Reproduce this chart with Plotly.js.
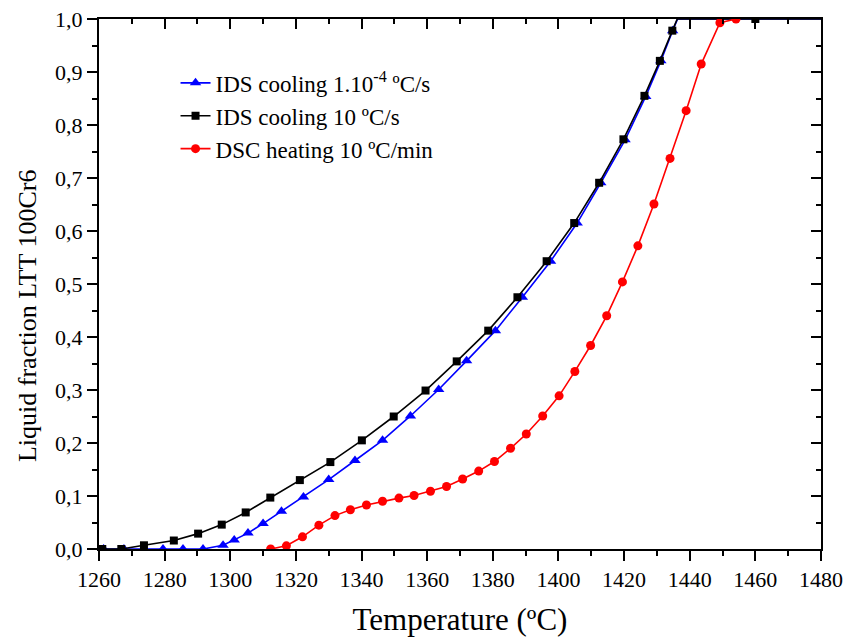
<!DOCTYPE html>
<html>
<head>
<meta charset="utf-8">
<script src="https://cdn.plot.ly/plotly-3.0.1.min.js"></script>
<style>html,body{margin:0;padding:0;background:#fff;}#chart{width:845px;height:642px;}</style>
</head>
<body>
<div id="chart"></div>
<script>
// IDS cooling 1.10^-4 °C/s (blue triangles)
const slowT = [1261.4,1267.6,1273.6,1279.5,1285.6,1291.7,1297.8,1301.2,1305.4,1310.0,1315.6,1322.3,1330.0,1338.0,1346.4,1354.9,1363.5,1372.0,1380.8,1389.0,1397.6,1405.7,1412.9,1420.3,1426.6,1431.2,1434.8];
const slowF = [0,0,0,0,0,0,0.007,0.017,0.030,0.048,0.071,0.098,0.131,0.167,0.205,0.251,0.301,0.355,0.412,0.475,0.543,0.615,0.691,0.772,0.854,0.921,0.978];
const slowTailT = [1434.8,1436.3,1480];
const slowTailF = [0.978,1.0,1.0];

// IDS cooling 10 °C/s (black squares)
const fastT = [1261.0,1266.8,1273.7,1282.8,1290.2,1297.4,1304.7,1312.2,1321.2,1330.5,1340.1,1349.8,1359.5,1369.0,1378.6,1387.5,1396.4,1404.8,1412.4,1419.8,1426.2,1430.9,1434.7];
const fastF = [0,0,0.007,0.016,0.029,0.046,0.069,0.097,0.130,0.164,0.205,0.250,0.299,0.354,0.412,0.475,0.543,0.615,0.691,0.773,0.855,0.921,0.978];
const fastTailT = [1434.7,1436.2,1480];
const fastTailF = [0.978,1.0,1.0];
const fastTopT = [1460];
const fastTopF = [1.0];

// DSC heating 10 °C/min (red circles)
const dscT = [1312.3,1317.1,1322.0,1327.0,1331.9,1336.6,1341.5,1346.4,1351.4,1356.0,1361.0,1365.9,1370.8,1375.7,1380.5,1385.4,1390.2,1395.2,1400.2,1405.0,1409.8,1414.7,1419.5,1424.2,1429.1,1434.0,1438.9,1443.5,1449.2,1454.1];
const dscF = [0.0,0.006,0.023,0.045,0.063,0.074,0.083,0.090,0.096,0.101,0.109,0.118,0.132,0.147,0.165,0.190,0.217,0.251,0.289,0.335,0.384,0.440,0.504,0.572,0.651,0.737,0.827,0.915,0.993,1.0];

const seriesNames = ['IDS cooling 1.10<sup>-4</sup> ºC/s','IDS cooling 10 ºC/s','DSC heating 10 ºC/min'];
const xTitle = 'Temperature (ºC)';
const yTitle = 'Liquid fraction LTT 100Cr6';

const BLUE = '#0000ff', BLACK = '#000000', RED = '#ff0000';
const FONT = 'Liberation Serif, Times New Roman, serif';

const traces = [
  {x: slowTailT, y: slowTailF, mode:'lines', line:{color:BLUE,width:1.6}, showlegend:false, hoverinfo:'skip'},
  {x: slowT, y: slowF, name: seriesNames[0], mode:'lines+markers', line:{color:BLUE,width:1.6}, marker:{symbol:'triangle-up', size:10, color:BLUE}},
  {x: fastTailT, y: fastTailF, mode:'lines', line:{color:BLACK,width:1.6}, showlegend:false, hoverinfo:'skip'},
  {x: fastTopT, y: fastTopF, mode:'markers', marker:{symbol:'square', size:8, color:BLACK}, showlegend:false},
  {x: fastT, y: fastF, name: seriesNames[1], mode:'lines+markers', line:{color:BLACK,width:1.6}, marker:{symbol:'square', size:8, color:BLACK}},
  {x: dscT, y: dscF, name: seriesNames[2], mode:'lines+markers', line:{color:RED,width:1.6}, marker:{symbol:'circle', size:9, color:RED}}
];

const tickCommon = {ticklen:10, tickwidth:2, tickcolor:'#000', showline:true, linewidth:2, linecolor:'#000', showgrid:false, zeroline:false};

const layout = {
  width:845, height:642,
  margin:{l:99, r:24, t:19, b:93},
  paper_bgcolor:'#fff', plot_bgcolor:'#fff',
  separators:',.',
  font:{family:FONT, color:'#000', size:22},
  showlegend:true,
  legend:{x:0.106, y:0.92, xanchor:'left', yanchor:'top', font:{family:FONT, size:23, color:'#000'}, bgcolor:'rgba(0,0,0,0)', tracegroupgap:0},
  xaxis: Object.assign({}, tickCommon, {
    range:[1260,1480], tick0:1260, dtick:20, ticks:'outside',
    minor:{dtick:10, ticks:'outside', ticklen:5, tickwidth:2, tickcolor:'#000'},
    tickfont:{family:FONT, size:22, color:'#000'},
    title:{text:xTitle, font:{family:FONT, size:31, color:'#000'}, standoff:17}
  }),
  yaxis: Object.assign({}, tickCommon, {
    range:[0,1], tick0:0, dtick:0.1, ticks:'outside', tickformat:'.1f',
    minor:{dtick:0.05, ticks:'outside', ticklen:5, tickwidth:2, tickcolor:'#000'},
    tickfont:{family:FONT, size:22, color:'#000'}
  }),
  xaxis2: Object.assign({}, tickCommon, {
    overlaying:'x', anchor:'y', side:'top', range:[1260,1480], tick0:1260, dtick:20, ticks:'inside', showticklabels:false,
    minor:{dtick:10, ticks:'inside', ticklen:5, tickwidth:2, tickcolor:'#000'}
  }),
  yaxis2: Object.assign({}, tickCommon, {
    overlaying:'y', anchor:'x', side:'right', range:[0,1], tick0:0, dtick:0.1, ticks:'inside', showticklabels:false,
    minor:{dtick:0.05, ticks:'inside', ticklen:5, tickwidth:2, tickcolor:'#000'}
  }),
  annotations:[{
    text:yTitle, xref:'paper', yref:'paper', x:-0.098, y:0.44, xanchor:'center', yanchor:'middle',
    textangle:-90, showarrow:false, font:{family:FONT, size:26, color:'#000'}
  }]
};

// invisible trace so the mirrored top/right axes are drawn
traces.push({x:[1260], y:[0], xaxis:'x2', yaxis:'y2', mode:'markers', marker:{opacity:0}, showlegend:false, hoverinfo:'skip'});

Plotly.newPlot('chart', traces, layout, {staticPlot:true, displayModeBar:false});
</script>
</body>
</html>
